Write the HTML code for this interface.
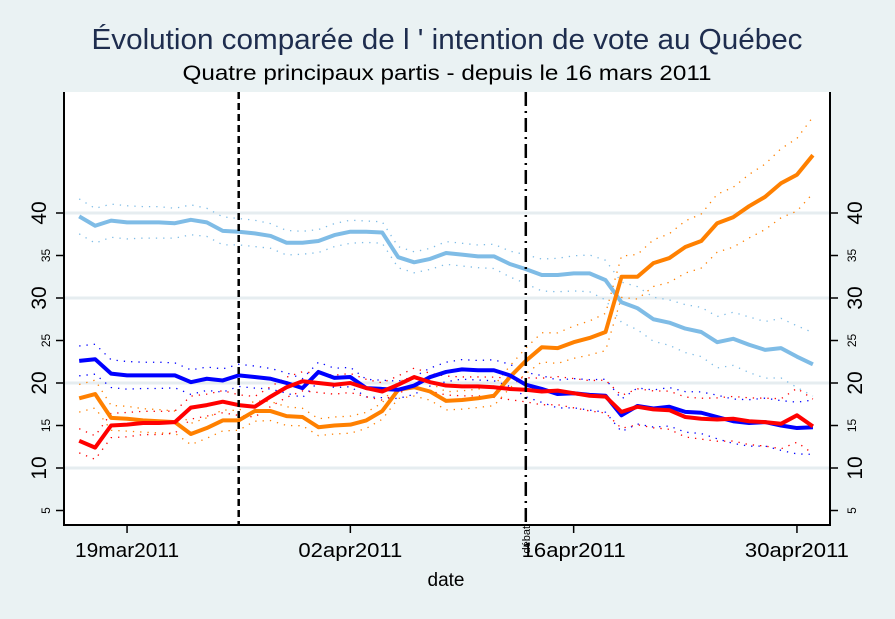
<!DOCTYPE html>
<html><head><meta charset="utf-8">
<style>
html,body{margin:0;padding:0;background:#EAF2F3;}
svg{display:block;font-family:"Liberation Sans",Arial,sans-serif;}
</style></head>
<body>
<svg id="chart" width="895" height="619" viewBox="0 0 895 619" xmlns="http://www.w3.org/2000/svg">
<rect x="0" y="0" width="895" height="619" fill="#EAF2F3"/>
<rect x="64" y="92" width="766" height="433" fill="#FFFFFF"/>
<text x="447" y="49" font-size="29" fill="#1E2D4E" text-anchor="middle" textLength="711" lengthAdjust="spacingAndGlyphs">Évolution comparée de l ' intention de vote au Québec</text>
<text x="447" y="80" font-size="21" fill="#000" text-anchor="middle" textLength="529" lengthAdjust="spacingAndGlyphs">Quatre principaux partis - depuis le 16 mars 2011</text>
<text x="446" y="586" font-size="19" fill="#000" text-anchor="middle">date</text>
<g id="grid"></g>
<g id="bands"></g>
<g id="lines"></g>
<g id="axes"></g>
</svg>
<script>
const days = [0,1,2,3,4,5,6,7,8,9,10,11,12,13,14,15,16,17,18,19,20,21,22,23,24,25,26,27,28,29,30,31,32,33,34,35,36,37,38,39,40,41,42,43,44,45,46];
const plcValues = [39.6,38.5,39.1,38.9,38.9,38.9,38.8,39.2,38.9,37.9,37.8,37.6,37.3,36.5,36.5,36.7,37.4,37.8,37.8,37.7,34.8,34.2,34.6,35.3,35.1,34.9,34.9,34.0,33.4,32.7,32.7,32.9,32.9,32.1,29.5,28.8,27.5,27.1,26.4,26.0,24.8,25.2,24.5,23.9,24.1,23.1,22.2];
const npdValues = [18.2,18.7,15.9,15.8,15.6,15.5,15.4,14.0,14.7,15.6,15.6,16.7,16.7,16.1,16.0,14.8,15.0,15.1,15.6,16.7,19.2,19.5,19.0,17.9,18.0,18.2,18.5,20.7,22.6,24.2,24.1,24.8,25.3,26.0,32.5,32.5,34.1,34.7,36.0,36.7,38.8,39.5,40.8,41.9,43.5,44.5,46.8];
const bqValues = [22.6,22.8,21.1,20.9,20.9,20.9,20.9,20.1,20.5,20.3,20.9,20.7,20.5,20.0,19.4,21.3,20.6,20.7,19.4,19.3,19.2,19.7,20.7,21.3,21.6,21.5,21.5,20.9,19.8,19.3,18.7,18.8,18.6,18.5,16.2,17.3,17.0,17.2,16.6,16.5,16.0,15.5,15.3,15.4,15.0,14.7,14.8];
const pqValues = [13.2,12.4,15.0,15.1,15.3,15.3,15.4,17.1,17.4,17.8,17.4,17.2,18.4,19.5,20.2,20.0,19.8,20.0,19.4,19.0,19.8,20.7,20.1,19.7,19.6,19.6,19.5,19.3,19.2,19.0,19.1,18.8,18.5,18.4,16.6,17.2,16.9,16.8,16.0,15.8,15.7,15.8,15.5,15.4,15.2,16.2,14.9];
const marginBase = [2.1,2.1,2.0,2.0,1.9,1.9,1.8,1.8,1.7,1.7,1.6,1.6,1.5,1.5,1.4,1.4,1.4,1.4,1.3,1.3,1.3,1.3,1.3,1.4,1.4,1.4,1.5,1.6,1.8,2.0,2.1,2.2,2.3,2.5,2.6,2.8,2.9,3.0,3.2,3.3,3.5,3.6,3.8,3.9,4.1,4.3,4.5];
const yTicksBig = [10,20,30,40];
const yTicksSmall = [5,15,25,35];
const xTickDays = [3,17,31,45];
const xTickLabels = ["19mar2011","02apr2011","16apr2011","30apr2011"];
const eventDays = [10,28];

const NS="http://www.w3.org/2000/svg";
function xScale(d){return 79.2 + d*15.95;}
function yScale(v){return 553 - v*8.5;}
function mk(tag,attrs,parent){const e=document.createElementNS(NS,tag);for(const k in attrs)e.setAttribute(k,attrs[k]);parent.appendChild(e);return e;}
const grid=document.getElementById('grid'),bands=document.getElementById('bands'),lines=document.getElementById('lines'),axes=document.getElementById('axes');

yTicksBig.forEach(v=>{
  const g=mk('line',{x1:64,x2:830,y1:yScale(v),y2:yScale(v),stroke:'#E6EDF0','stroke-width':3},grid);
  
  
});

const series=[
  {name:'plc',vals:plcValues,color:'#7FBCE6',w:4},
  {name:'npd',vals:npdValues,color:'#FF8000',w:4},
  {name:'bq',vals:bqValues,color:'#0000FF',w:4},
  {name:'pq',vals:pqValues,color:'#FF0000',w:4}
];
series.forEach(s=>{
  ['upper','lower'].forEach(side=>{
    const pts=days.map((d,i)=>{const p=s.vals[i]/100;const m=marginBase[i]*Math.sqrt(p*(1-p))/0.5;return xScale(d)+','+yScale(s.vals[i]+(side==='upper'?m:-m));}).join(' ');
    const b=mk('polyline',{points:pts,fill:'none',stroke:s.color,'stroke-width':1.3,'stroke-dasharray':'1.3 6'},bands);
    
    
  });
});
series.forEach(s=>{
  const pts=days.map((d,i)=>xScale(d)+','+yScale(s.vals[i])).join(' ');
  const l=mk('polyline',{points:pts,fill:'none',stroke:s.color,'stroke-width':s.w,'stroke-linejoin':'round'},lines);
  
  
});

const ev1=mk('line',{x1:xScale(eventDays[0]),x2:xScale(eventDays[0]),y1:92,y2:525,stroke:'#000','stroke-width':2.5,'stroke-dasharray':'7 4'},axes);


const ev2=mk('line',{x1:xScale(eventDays[1]),x2:xScale(eventDays[1]),y1:92,y2:525,stroke:'#000','stroke-width':2.5,'stroke-dasharray':'14 5 2 5'},axes);


const dl=mk('text',{x:0,y:0,'font-size':11,fill:'#000','text-anchor':'end',transform:'translate('+(xScale(eventDays[1])+4)+',526) rotate(-90)'},axes);
dl.textContent='débat';



const la=mk('line',{x1:64,x2:64,y1:92,y2:526,stroke:'#000','stroke-width':2},axes);


const ra=mk('line',{x1:830,x2:830,y1:92,y2:526,stroke:'#000','stroke-width':2},axes);


const ba=mk('line',{x1:63,x2:831,y1:525,y2:525,stroke:'#000','stroke-width':2},axes);



function yLabel(v,big){
  const y=yScale(v);
  mk('line',{x1:56,x2:64,y1:y,y2:y,stroke:'#000','stroke-width':1.5},axes);
  mk('line',{x1:830,x2:838,y1:y,y2:y,stroke:'#000','stroke-width':1.5},axes);
  const fs=big?21:12;
  const lx=big?46:50, rx=big?862:856;
  const t1=mk('text',{x:0,y:0,'font-size':fs,fill:'#000','text-anchor':'middle',transform:'translate('+lx+','+y+') rotate(-90)'},axes);
  t1.textContent=v;
  
  
  const t2=mk('text',{x:0,y:0,'font-size':fs,fill:'#000','text-anchor':'middle',transform:'translate('+rx+','+y+') rotate(-90)'},axes);
  t2.textContent=v;
  
  
}
yTicksBig.forEach(v=>yLabel(v,true));
yTicksSmall.forEach(v=>yLabel(v,false));

xTickDays.forEach((d,i)=>{
  const x=xScale(d);
  mk('line',{x1:x,x2:x,y1:525,y2:533,stroke:'#000','stroke-width':1.5},axes);
  const t=mk('text',{x:x,y:557,'font-size':20,fill:'#000','text-anchor':'middle',textLength:104,lengthAdjust:'spacingAndGlyphs'},axes);
  t.textContent=xTickLabels[i];
  
  
});
</script>
</body></html>
